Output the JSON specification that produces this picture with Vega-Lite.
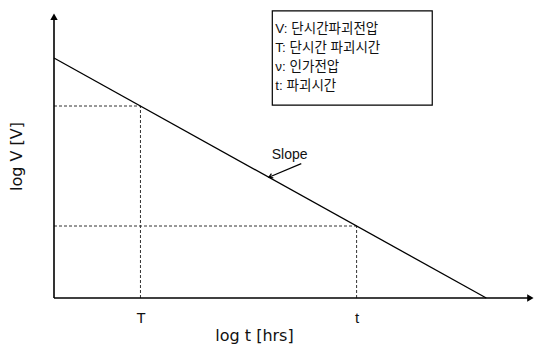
{
  "$schema": "https://vega.github.io/schema/vega-lite/v6.json",
  "width": 482,
  "height": 288,
  "autosize": "none",
  "padding": {"left": 54, "top": 10, "right": 1, "bottom": 49},
  "background": "white",
  "config": {"view": {"stroke": null}, "font": "Liberation Sans, Noto Sans CJK KR"},
  "datasets": {
    "slopeLine": [{"x": 0, "y": 10}, {"x": 10, "y": 0}],
    "guides": [
      {"x": 0, "y": 8, "x2": 2, "y2": 8},
      {"x": 2, "y": 0, "x2": 2, "y2": 8},
      {"x": 0, "y": 3, "x2": 7, "y2": 3},
      {"x": 7, "y": 0, "x2": 7, "y2": 3}
    ],
    "axesLines": [
      {"x": 0, "y": 0, "x2": 0, "y2": 11.7},
      {"x": 0, "y": 0, "x2": 11.0, "y2": 0}
    ],
    "yArrow": [{"x": 0, "y": 11.72}],
    "xArrow": [{"x": 11.02, "y": 0}],
    "legendBox": [{"x": 5.05, "y": 11.96, "x2": 8.75, "y2": 8.04}],
    "legendText": [
      {"x": 5.12, "y": 11.2, "label": "V: 단시간파괴전압"},
      {"x": 5.12, "y": 10.42, "label": "T: 단시간 파괴시간"},
      {"x": 5.12, "y": 9.63, "label": "ν: 인가전압"},
      {"x": 5.12, "y": 8.84, "label": "t: 파괴시간"}
    ],
    "slopeText": [{"x": 5.45, "y": 5.96, "label": "Slope"}],
    "slopeArrow": [{"x": 5.72, "y": 5.6, "x2": 4.97, "y2": 5.03}],
    "slopeHead": [{"x": 4.97, "y": 5.03}]
  },
  "encoding": {
    "x": {"field": "x", "type": "quantitative", "scale": {"domain": [0, 11.15], "nice": false, "zero": false},
      "axis": {"values": [2, 7], "labelExpr": "datum.value == 2 ? 'T' : 't'", "ticks": false, "domain": false, "grid": false,
        "labelFontSize": 15, "labelPadding": 12, "labelColor": "#111", "labelFont": "Liberation Sans",
        "title": "log t [hrs]", "titleFontSize": 16, "titleFontWeight": "normal", "titleColor": "#111", "titleFont": "DejaVu Sans",
        "titleX": 200, "titleY": 42, "titleAlign": "center", "titleBaseline": "alphabetic"}},
    "y": {"field": "y", "type": "quantitative", "scale": {"domain": [0, 12], "nice": false, "zero": false},
      "axis": {"labels": false, "ticks": false, "domain": false, "grid": false,
        "title": "log V [V]", "titleFontSize": 16, "titleFontWeight": "normal", "titleColor": "#111", "titleFont": "DejaVu Sans",
        "titleX": -38, "titleY": 146, "titleAlign": "center", "titleBaseline": "middle", "titleAngle": -90}}
  },
  "layer": [
    {"data": {"name": "guides"}, "mark": {"type": "rule", "stroke": "#333", "strokeWidth": 1, "strokeDash": [3, 2]},
      "encoding": {"x2": {"field": "x2"}, "y2": {"field": "y2"}}},
    {"data": {"name": "slopeLine"}, "mark": {"type": "line", "stroke": "#000", "strokeWidth": 1.3}},
    {"data": {"name": "axesLines"}, "mark": {"type": "rule", "stroke": "#000", "strokeWidth": 1.6},
      "encoding": {"x2": {"field": "x2"}, "y2": {"field": "y2"}}},
    {"data": {"name": "yArrow"}, "mark": {"type": "point", "shape": "triangle-up", "filled": true, "color": "#000", "size": 55, "opacity": 1}},
    {"data": {"name": "xArrow"}, "mark": {"type": "point", "shape": "triangle-right", "filled": true, "color": "#000", "size": 55, "opacity": 1}},
    {"data": {"name": "legendBox"}, "mark": {"type": "rect", "fill": "white", "stroke": "#000", "strokeWidth": 1.2},
      "encoding": {"x2": {"field": "x2"}, "y2": {"field": "y2"}}},
    {"data": {"name": "legendText"}, "mark": {"type": "text", "align": "left", "baseline": "middle", "fontSize": 13.5, "color": "#111"},
      "encoding": {"text": {"field": "label"}}},
    {"data": {"name": "slopeText"}, "mark": {"type": "text", "align": "center", "baseline": "middle", "fontSize": 14, "color": "#111"},
      "encoding": {"text": {"field": "label"}}},
    {"data": {"name": "slopeArrow"}, "mark": {"type": "rule", "stroke": "#000", "strokeWidth": 1.2},
      "encoding": {"x2": {"field": "x2"}, "y2": {"field": "y2"}}},
    {"data": {"name": "slopeHead"}, "mark": {"type": "point", "shape": "M-1,-0.6L0,0L-1,0.6", "filled": false, "stroke": "#000", "strokeWidth": 1.2, "size": 60, "angle": 156, "opacity": 1}}
  ]
}
